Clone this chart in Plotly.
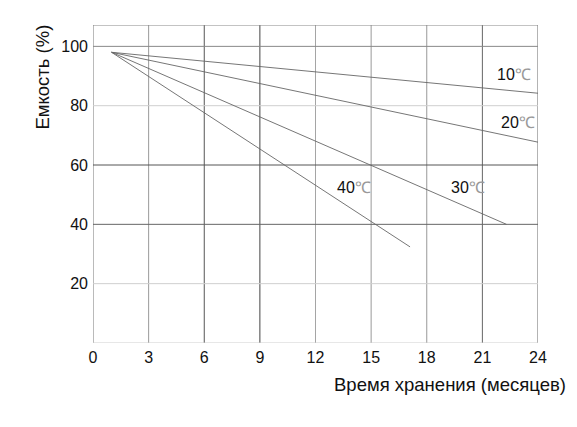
import plotly.graph_objects as go

# Data
x_start = 1
y_start = 98
series_names = ["10℃", "20℃", "30℃", "40℃"]
x_end = [24, 24, 22.3, 17.1]
y_end = [84.2, 67.7, 40.0, 32.4]
label_x = [22.7, 22.9, 20.2, 14.1]
label_y = [90.4, 74.2, 52.4, 52.4]

x_ticks = [0, 3, 6, 9, 12, 15, 18, 21, 24]
y_ticks = [20, 40, 60, 80, 100]
x_grid_colors = ["#777", "#9a9a9a", "#555", "#444", "#a5a5a5", "#999", "#999", "#666", "#666"]
y_grid_colors = ["#cfcfcf", "#666", "#555", "#cfcfcf", "#888"]
Y_MAX = 107.2

W, H = 577, 427
OFF = 8  # page body margin offset
# target screen plot area
SX0, SX1, SY0, SY1 = 93.3, 537.7, 25, 343.4
L = SX0 - OFF
T = SY0 - OFF
R = W - (SX1 - OFF)
B = H - (SY1 - OFF)
pw, ph = W - L - R, H - T - B

FONT = "Liberation Sans, Arial"

fig = go.Figure()

for xe, ye in zip(x_end, y_end):
    fig.add_trace(go.Scatter(x=[x_start, xe], y=[y_start, ye], mode="lines",
                             line=dict(color="#666", width=0.9), showlegend=False,
                             hoverinfo="skip"))

shapes = []
for xv, c in zip(x_ticks, x_grid_colors):
    shapes.append(dict(type="line", xref="x", yref="y", x0=xv, x1=xv, y0=0, y1=Y_MAX,
                       line=dict(color=c, width=1), layer="below"))
for yv, c in zip(y_ticks, y_grid_colors):
    shapes.append(dict(type="line", xref="x", yref="y", x0=0, x1=24, y0=yv, y1=yv,
                       line=dict(color=c, width=1), layer="below"))
shapes.append(dict(type="line", xref="x", yref="y", x0=0, x1=24, y0=0, y1=0,
                   line=dict(color="#cfcfcf", width=1), layer="below"))
shapes.append(dict(type="line", xref="x", yref="y", x0=0, x1=24, y0=Y_MAX, y1=Y_MAX,
                   line=dict(color="#888", width=1), layer="below"))


def paper_x(sx):
    return (sx - OFF - L) / pw


def paper_y(sy):
    return (H - B - (sy - OFF)) / ph


annotations = []
for name, lx, ly in zip(series_names, label_x, label_y):
    num = name.replace("℃", "")
    annotations.append(dict(x=lx, y=ly, xref="x", yref="y", showarrow=False,
                            xanchor="center", yanchor="middle",
                            text=num + "<span style='color:#999'>℃</span>",
                            font=dict(family=FONT, size=16, color="#111")))
annotations.append(dict(x=paper_x(43), y=paper_y(77), xref="paper", yref="paper",
                        showarrow=False, xanchor="center", yanchor="middle",
                        text="Емкость (%)", textangle=-90,
                        font=dict(family=FONT, size=18.5, color="#111")))
annotations.append(dict(x=paper_x(450), y=paper_y(385), xref="paper", yref="paper",
                        showarrow=False, xanchor="center", yanchor="middle",
                        text="Время хранения (месяцев)",
                        font=dict(family=FONT, size=18.5, color="#111")))

fig.update_layout(
    width=W, height=H,
    margin=dict(l=L, r=R, t=T, b=B),
    plot_bgcolor="white", paper_bgcolor="white",
    shapes=shapes, annotations=annotations,
    font=dict(family=FONT, size=16, color="#111"),
    xaxis=dict(range=[0, 24], tickvals=x_ticks, showgrid=False, zeroline=False,
               showline=False, ticks="", ticklabelstandoff=3, fixedrange=True),
    yaxis=dict(range=[0, Y_MAX], tickvals=y_ticks, showgrid=False, zeroline=False,
               showline=False, ticks="", ticklabelstandoff=4, fixedrange=True),
)

fig.write_html("out.html")
